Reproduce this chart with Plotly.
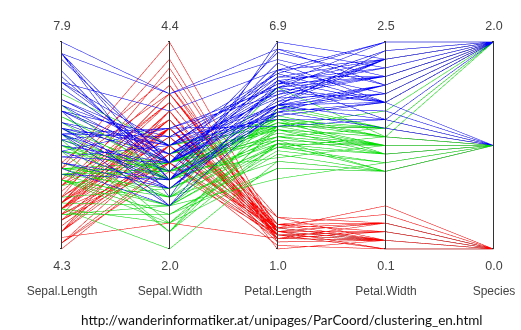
import plotly.graph_objects as go

# Iris data (setosa, versicolor, virginica)
sepal_length = [
    5.1,4.9,4.7,4.6,5.0,5.4,4.6,5.0,4.4,4.9,5.4,4.8,4.8,4.3,5.8,5.7,5.4,5.1,5.7,5.1,5.4,5.1,4.6,5.1,4.8,
    5.0,5.0,5.2,5.2,4.7,4.8,5.4,5.2,5.5,4.9,5.0,5.5,4.9,4.4,5.1,5.0,4.5,4.4,5.0,5.1,4.8,5.1,4.6,5.3,5.0,
    7.0,6.4,6.9,5.5,6.5,5.7,6.3,4.9,6.6,5.2,5.0,5.9,6.0,6.1,5.6,6.7,5.6,5.8,6.2,5.6,5.9,6.1,6.3,6.1,6.4,
    6.6,6.8,6.7,6.0,5.7,5.5,5.5,5.8,6.0,5.4,6.0,6.7,6.3,5.6,5.5,5.5,6.1,5.8,5.0,5.6,5.7,5.7,6.2,5.1,5.7,
    6.3,5.8,7.1,6.3,6.5,7.6,4.9,7.3,6.7,7.2,6.5,6.4,6.8,5.7,5.8,6.4,6.5,7.7,7.7,6.0,6.9,5.6,7.7,6.3,6.7,
    7.2,6.2,6.1,6.4,7.2,7.4,7.9,6.4,6.3,6.1,7.7,6.3,6.4,6.0,6.9,6.7,6.9,5.8,6.8,6.7,6.7,6.3,6.5,6.2,5.9]
sepal_width = [
    3.5,3.0,3.2,3.1,3.6,3.9,3.4,3.4,2.9,3.1,3.7,3.4,3.0,3.0,4.0,4.4,3.9,3.5,3.8,3.8,3.4,3.7,3.6,3.3,3.4,
    3.0,3.4,3.5,3.4,3.2,3.1,3.4,4.1,4.2,3.1,3.2,3.5,3.6,3.0,3.4,3.5,2.3,3.2,3.5,3.8,3.0,3.8,3.2,3.7,3.3,
    3.2,3.2,3.1,2.3,2.8,2.8,3.3,2.4,2.9,2.7,2.0,3.0,2.2,2.9,2.9,3.1,3.0,2.7,2.2,2.5,3.2,2.8,2.5,2.8,2.9,
    3.0,2.8,3.0,2.9,2.6,2.4,2.4,2.7,2.7,3.0,3.4,3.1,2.3,3.0,2.5,2.6,3.0,2.6,2.3,2.7,3.0,2.9,2.9,2.5,2.8,
    3.3,2.7,3.0,2.9,3.0,3.0,2.5,2.9,2.5,3.6,3.2,2.7,3.0,2.5,2.8,3.2,3.0,3.8,2.6,2.2,3.2,2.8,2.8,2.7,3.3,
    3.2,2.8,3.0,2.8,3.0,2.8,3.8,2.8,2.8,2.6,3.0,3.4,3.1,3.0,3.1,3.1,3.1,2.7,3.2,3.3,3.0,2.5,3.0,3.4,3.0]
petal_length = [
    1.4,1.4,1.3,1.5,1.4,1.7,1.4,1.5,1.4,1.5,1.5,1.6,1.4,1.1,1.2,1.5,1.3,1.4,1.7,1.5,1.7,1.5,1.0,1.7,1.9,
    1.6,1.6,1.5,1.4,1.6,1.6,1.5,1.5,1.4,1.5,1.2,1.3,1.4,1.3,1.5,1.3,1.3,1.3,1.6,1.9,1.4,1.6,1.4,1.5,1.4,
    4.7,4.5,4.9,4.0,4.6,4.5,4.7,3.3,4.6,3.9,3.5,4.2,4.0,4.7,3.6,4.4,4.5,4.1,4.5,3.9,4.8,4.0,4.9,4.7,4.3,
    4.4,4.8,5.0,4.5,3.5,3.8,3.7,3.9,5.1,4.5,4.5,4.7,4.4,4.1,4.0,4.4,4.6,4.0,3.3,4.2,4.2,4.2,4.3,3.0,4.1,
    6.0,5.1,5.9,5.6,5.8,6.6,4.5,6.3,5.8,6.1,5.1,5.3,5.5,5.0,5.1,5.3,5.5,6.7,6.9,5.0,5.7,4.9,6.7,4.9,5.7,
    6.0,4.8,4.9,5.6,5.8,6.1,6.4,5.6,5.1,5.6,6.1,5.6,5.5,4.8,5.4,5.6,5.1,5.1,5.9,5.7,5.2,5.0,5.2,5.4,5.1]
petal_width = [
    0.2,0.2,0.2,0.2,0.2,0.4,0.3,0.2,0.2,0.1,0.2,0.2,0.1,0.1,0.2,0.4,0.4,0.3,0.3,0.3,0.2,0.4,0.2,0.5,0.2,
    0.2,0.4,0.2,0.2,0.2,0.2,0.4,0.1,0.2,0.2,0.2,0.2,0.1,0.2,0.2,0.3,0.3,0.2,0.6,0.4,0.3,0.2,0.2,0.2,0.2,
    1.4,1.5,1.5,1.3,1.5,1.3,1.6,1.0,1.3,1.4,1.0,1.5,1.0,1.4,1.3,1.4,1.5,1.0,1.5,1.1,1.8,1.3,1.5,1.2,1.3,
    1.4,1.4,1.7,1.5,1.0,1.1,1.0,1.2,1.6,1.5,1.6,1.5,1.3,1.3,1.3,1.2,1.4,1.2,1.0,1.3,1.2,1.3,1.3,1.1,1.3,
    2.5,1.9,2.1,1.8,2.2,2.1,1.7,1.8,1.8,2.5,2.0,1.9,2.1,2.0,2.4,2.3,1.8,2.2,2.3,1.5,2.3,2.0,2.0,1.8,2.1,
    1.8,1.8,1.8,2.1,1.6,1.9,2.0,2.2,1.5,1.4,2.3,2.4,1.8,1.8,2.1,2.4,2.3,1.9,2.3,2.5,2.3,1.9,2.0,2.3,1.8]
species = [0] * 50 + [1] * 50 + [2] * 50
cluster = [
    0,0,0,0,0,0,0,0,0,0,0,0,0,0,0,0,0,0,0,0,0,0,0,0,0,
    0,0,0,0,0,0,0,0,0,0,0,0,0,0,0,0,0,0,0,0,0,0,0,0,0,
    1,1,2,1,1,1,2,1,1,1,1,1,1,1,1,1,1,1,1,1,2,1,1,1,1,
    1,1,2,1,1,1,1,1,2,1,2,1,1,1,1,1,1,1,1,1,1,1,1,1,1,
    2,2,2,2,2,2,1,2,2,2,2,2,2,2,2,2,2,2,2,1,2,2,2,2,2,
    2,2,2,2,2,2,2,2,1,1,2,2,2,1,2,2,2,2,2,2,2,2,2,2,2]

dim_names = ["Sepal.Length", "Sepal.Width", "Petal.Length", "Petal.Width", "Species"]
dim_values = [sepal_length, sepal_width, petal_length, petal_width, species]
cluster_colors = ["rgba(255,0,0,0.85)", "rgba(0,225,0,0.85)", "rgba(0,0,255,0.85)"]

caption = "http://wanderinformatiker.at/unipages/ParCoord/clustering_en.html"

dims = [dict(label="<br>" + n, values=v, range=[min(v), max(v)], tickformat=".1f")
        for n, v in zip(dim_names, dim_values)]

fig = go.Figure(go.Parcoords(
    line=dict(color=cluster, cmin=0, cmax=2,
              colorscale=[[0, cluster_colors[0]], [0.33, cluster_colors[0]],
                          [0.33, cluster_colors[1]], [0.67, cluster_colors[1]],
                          [0.67, cluster_colors[2]], [1, cluster_colors[2]]]),
    dimensions=dims,
    labelside="bottom",
    labelfont=dict(family="Liberation Sans, Arial", size=12, color="#444"),
    rangefont=dict(family="Liberation Sans, Arial", size=12.5, color="#444"),
    tickfont=dict(family="Liberation Sans, Arial", size=1, color="rgba(0,0,0,0)"),
    domain=dict(x=[0.119, 0.950], y=[0.2394, 0.8788]),
))

fig.add_annotation(text=caption, xref="paper", yref="paper", x=0.541, y=0.0,
                   xanchor="center", yanchor="bottom", showarrow=False,
                   font=dict(family="Lato, Open Sans", size=13.5, color="#111"))

fig.update_layout(width=521, height=330, margin=dict(l=0, r=0, t=0, b=0),
                  paper_bgcolor="white", plot_bgcolor="white")

post = """
document.body.style.margin = '0';
document.body.style.overflow = 'hidden';
var gd = document.getElementById('{plot_id}');
function styleAxes() {
  gd.querySelectorAll('.axis .domain').forEach(function(e) {
    e.setAttribute('stroke', '#333'); e.setAttribute('stroke-opacity', '1');
    e.style.strokeOpacity = '1'; e.style.stroke = '#333';
  });
  gd.querySelectorAll('.axis .tick line').forEach(function(e) {
    e.setAttribute('stroke-opacity', '0'); e.style.strokeOpacity = '0';
  });
}
styleAxes();
gd.on('plotly_afterplot', styleAxes);
setTimeout(styleAxes, 50);
setTimeout(styleAxes, 300);
"""

fig.write_html("out.html", post_script=post, config={"displayModeBar": False})
